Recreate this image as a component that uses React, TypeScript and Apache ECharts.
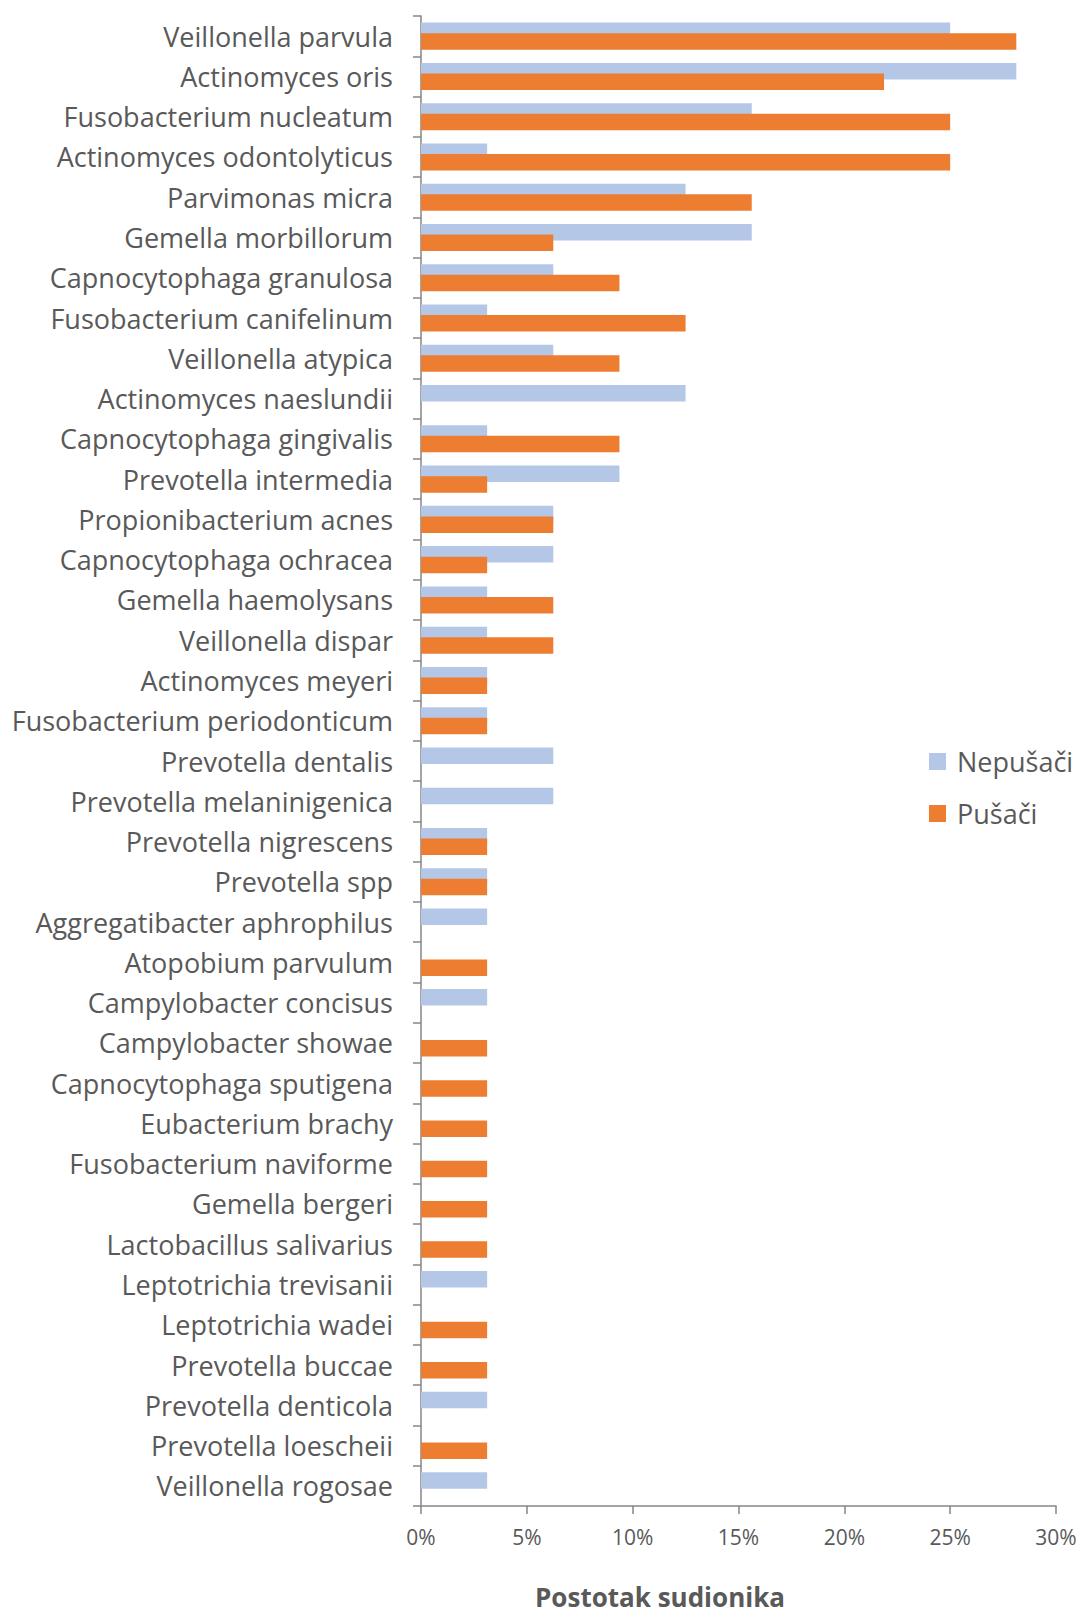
import React, { useEffect, useRef } from "react";
import * as echarts from "echarts";

const categories = [
  "Veillonella parvula",
  "Actinomyces oris",
  "Fusobacterium nucleatum",
  "Actinomyces odontolyticus",
  "Parvimonas micra",
  "Gemella morbillorum",
  "Capnocytophaga granulosa",
  "Fusobacterium canifelinum",
  "Veillonella atypica",
  "Actinomyces naeslundii",
  "Capnocytophaga gingivalis",
  "Prevotella intermedia",
  "Propionibacterium acnes",
  "Capnocytophaga ochracea",
  "Gemella haemolysans",
  "Veillonella dispar",
  "Actinomyces meyeri",
  "Fusobacterium periodonticum",
  "Prevotella dentalis",
  "Prevotella melaninigenica",
  "Prevotella nigrescens",
  "Prevotella spp",
  "Aggregatibacter aphrophilus",
  "Atopobium parvulum",
  "Campylobacter concisus",
  "Campylobacter showae",
  "Capnocytophaga sputigena",
  "Eubacterium brachy",
  "Fusobacterium naviforme",
  "Gemella bergeri",
  "Lactobacillus salivarius",
  "Leptotrichia trevisanii",
  "Leptotrichia wadei",
  "Prevotella buccae",
  "Prevotella denticola",
  "Prevotella loescheii",
  "Veillonella rogosae",
];

// Nepušači (non-smokers), percent
const nepusaci = [
  25, 28.125, 15.625, 3.125, 12.5, 15.625, 6.25, 3.125, 6.25, 12.5,
  3.125, 9.375, 6.25, 6.25, 3.125, 3.125, 3.125, 3.125, 6.25, 6.25,
  3.125, 3.125, 3.125, 0, 3.125, 0, 0, 0, 0, 0,
  0, 3.125, 0, 0, 3.125, 0, 3.125,
];

// Pušači (smokers), percent
const pusaci = [
  28.125, 21.875, 25, 25, 15.625, 6.25, 9.375, 12.5, 9.375, 0,
  9.375, 3.125, 6.25, 3.125, 6.25, 6.25, 3.125, 3.125, 0, 0,
  3.125, 3.125, 0, 3.125, 0, 3.125, 3.125, 3.125, 3.125, 3.125,
  3.125, 0, 3.125, 3.125, 0, 3.125, 0,
];

const seriesNames = ["Nepušači", "Pušači"];
const axisTitle = "Postotak sudionika";

const FONT = '"Open Sans", "Noto Sans", sans-serif';
const TEXT = "#595959";
const AXIS = "#868686";

export default function App() {
  const ref = useRef<HTMLDivElement>(null);

  useEffect(() => {
    document.body.style.margin = "0";
    if (!ref.current) return;
    const chart = echarts.init(ref.current, null, { renderer: "svg" });
    chart.setOption({
      animation: false,
      backgroundColor: "#ffffff",
      textStyle: { fontFamily: FONT },
      grid: { left: 421, right: 24, top: 16, bottom: 110, containLabel: false },
      legend: {
        orient: "vertical",
        left: 924,
        top: 743,
        itemWidth: 17,
        itemHeight: 17,
        itemGap: 25,
        icon: "rect",
        data: seriesNames,
        textStyle: {
          fontFamily: FONT,
          fontSize: 27,
          lineHeight: 27,
          color: TEXT,
          padding: [0, 0, 0, 6],
        },
      },
      xAxis: {
        type: "value",
        min: 0,
        max: 30,
        interval: 5,
        splitLine: { show: false },
        axisLine: { show: true, lineStyle: { color: AXIS, width: 1.5 } },
        axisTick: { show: true, length: 8, lineStyle: { color: AXIS, width: 1.5 } },
        axisLabel: {
          formatter: "{value}%",
          fontFamily: FONT,
          fontSize: 21,
          color: TEXT,
          margin: 20,
        },
      },
      yAxis: {
        type: "category",
        data: categories,
        inverse: true,
        axisLine: { show: true, lineStyle: { color: AXIS, width: 1.5 } },
        axisTick: { show: true, length: 8, lineStyle: { color: AXIS, width: 1.5 } },
        axisLabel: {
          fontFamily: FONT,
          fontSize: 27,
          color: TEXT,
          margin: 28,
          interval: 0,
        },
      },
      graphic: [
        {
          type: "text",
          x: 660,
          y: 1597,
          style: {
            text: axisTitle,
            fontFamily: FONT,
            fontSize: 26,
            lineHeight: 26,
            fontWeight: "bold",
            fill: TEXT,
            align: "center",
            verticalAlign: "middle",
          },
        },
      ],
      series: [
        {
          name: seriesNames[0],
          type: "bar",
          data: nepusaci,
          barWidth: 16.5,
          barGap: "-36%",
          itemStyle: { color: "#B4C7E7" },
        },
        {
          name: seriesNames[1],
          type: "bar",
          data: pusaci,
          barWidth: 16.5,
          barGap: "-36%",
          itemStyle: { color: "#ED7D31" },
        },
      ],
    });
    return () => chart.dispose();
  }, []);

  return <div ref={ref} style={{ width: 1080, height: 1616 }} />;
}
